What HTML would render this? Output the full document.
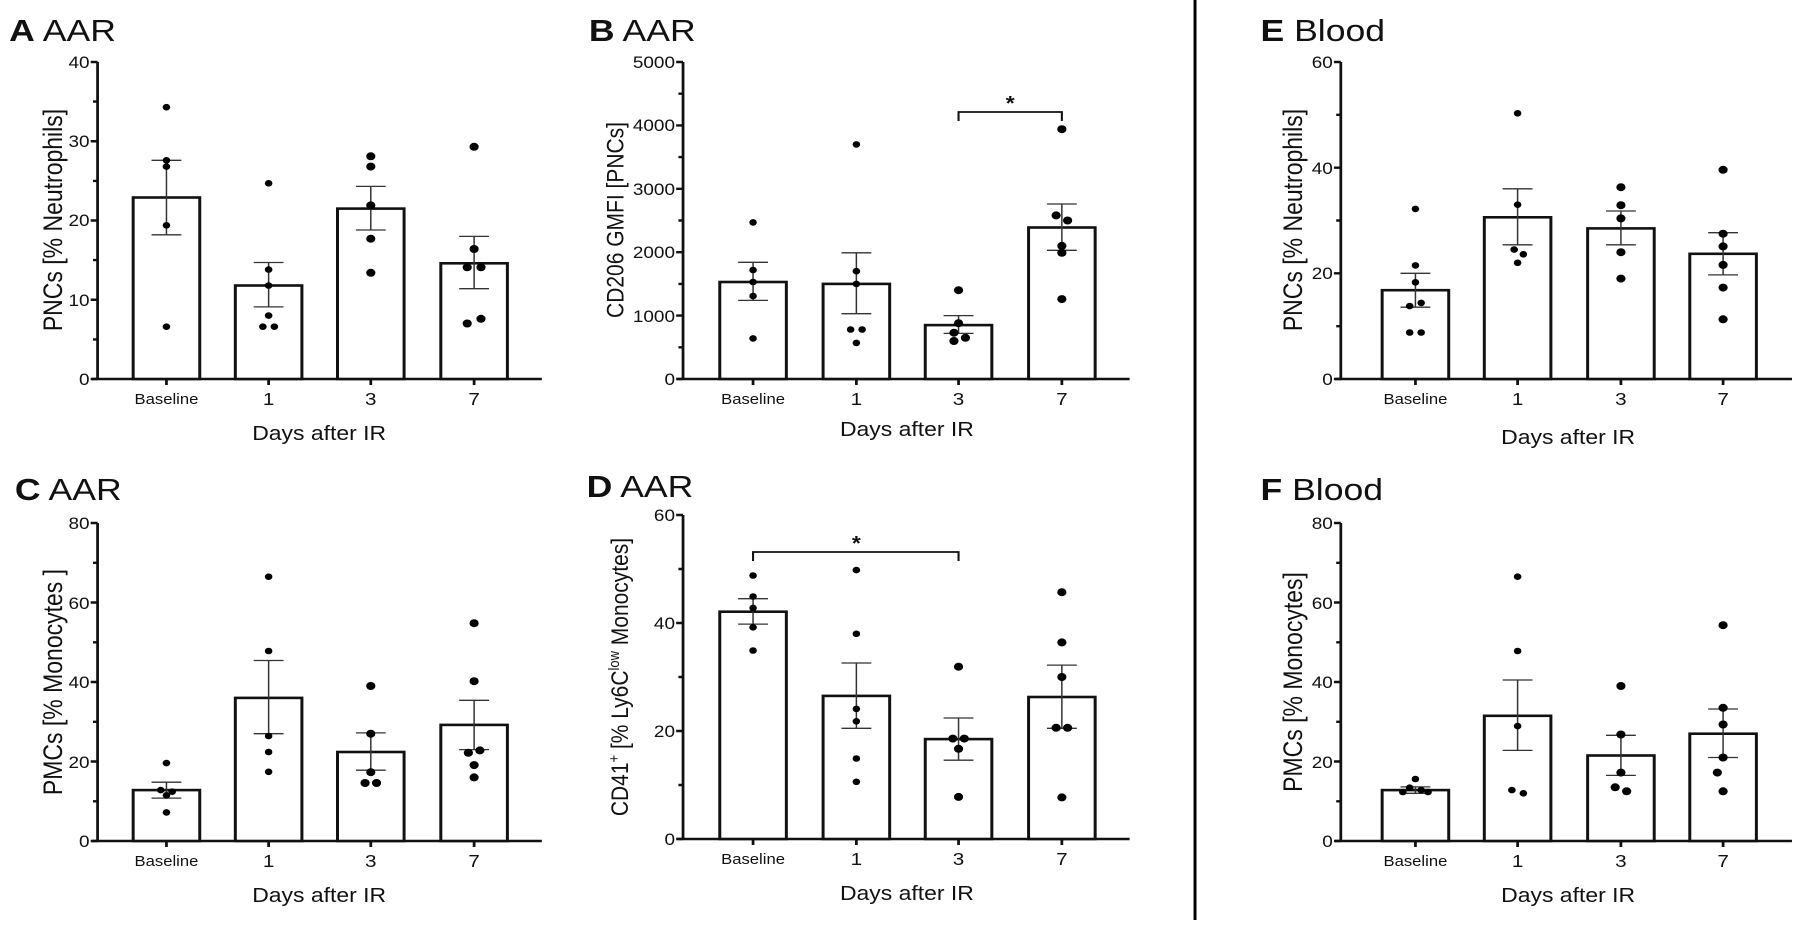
<!DOCTYPE html>
<html><head><meta charset="utf-8"><style>
html,body{margin:0;padding:0;background:#fff}
svg{display:block}
text{font-family:"Liberation Sans",Arial,sans-serif;fill:#111}
.ax{stroke:#111;stroke-width:2.4;fill:none}
.bar{stroke:#111;stroke-width:2.6;fill:#fff}
.eb{stroke:#333;stroke-width:1.3;fill:none}
.tk{font-size:16.5px;text-anchor:end}
.xl{font-size:14.5px;text-anchor:middle}
.xd{font-size:18px;text-anchor:middle}
.yl{font-size:23px;text-anchor:middle}
.dx{font-size:20px;text-anchor:middle}
.tt{font-size:31px}
circle{fill:#000}
</style></head><body>
<svg width="1800" height="927" viewBox="0 0 1568 927" preserveAspectRatio="none">
<line x1="1041" y1="0" x2="1041" y2="920" stroke="#000" stroke-width="2.6"/>

<!-- Panel A -->
<text class="tt" x="8" y="41"><tspan font-weight="bold">A</tspan> AAR</text>
<path class="ax" d="M85,62V379M80,379H472"/>
<path class="ax" d="M85,62h-6M85,141.25h-6M85,220.5h-6M85,299.75h-6M85,379h-6M85,101.6h-4M85,180.9h-4M85,260.1h-4M85,339.4h-4M145,379v6M234,379v6M323,379v6M413,379v6"/>
<text class="tk" x="78" y="68">40</text><text class="tk" x="78" y="147">30</text><text class="tk" x="78" y="226">20</text><text class="tk" x="78" y="306">10</text><text class="tk" x="78" y="385">0</text>
<rect class="bar" x="116" y="197.5" width="58" height="181.5"/><rect class="bar" x="205" y="285.5" width="58" height="93.5"/><rect class="bar" x="294" y="208.6" width="58" height="170.4"/><rect class="bar" x="384" y="263.3" width="58" height="115.7"/>
<path class="eb" d="M145,234.8V160.3M132,234.8h26M132,160.3h26M234,306.9V262.5M221,306.9h26M221,262.5h26M323,230V186.4M310,230h26M310,186.4h26M413,288.7V236.4M400,288.7h26M400,236.4h26"/>
<g><circle cx="145" cy="107.2" r="3.3"/><circle cx="145" cy="160.3" r="3.3"/><circle cx="145" cy="166.6" r="3.3"/><circle cx="145" cy="225.3" r="3.3"/><circle cx="145" cy="326.7" r="3.3"/>
<circle cx="234" cy="183.3" r="3.3"/><circle cx="234" cy="269.6" r="3.3"/><circle cx="234" cy="285.5" r="3.3"/><circle cx="234" cy="315.6" r="3.3"/><circle cx="229" cy="326.7" r="3.3"/><circle cx="239" cy="326.7" r="3.3"/>
<circle cx="323" cy="156.3" r="4"/><circle cx="323" cy="166.6" r="4"/><circle cx="323" cy="205.4" r="4"/><circle cx="323" cy="238.7" r="4"/><circle cx="323" cy="272.8" r="4"/>
<circle cx="413" cy="146.8" r="4"/><circle cx="413" cy="249" r="4"/><circle cx="407" cy="267.3" r="4"/><circle cx="419" cy="267.3" r="4"/><circle cx="407" cy="323.5" r="4"/><circle cx="419" cy="318.8" r="4"/></g>
<text class="xl" x="145" y="404">Baseline</text><text class="xd" x="234" y="405">1</text><text class="xd" x="323" y="405">3</text><text class="xd" x="413" y="405">7</text>
<text class="dx" x="278" y="440">Days after IR</text>
<text class="yl" transform="translate(54,220) rotate(-90)">PNCs [% Neutrophils]</text>

<!-- Panel B -->
<text class="tt" x="513" y="41"><tspan font-weight="bold">B</tspan> AAR</text>
<path class="ax" d="M595,62V379M590,379H984"/>
<path class="ax" d="M595,62h-6M595,125.4h-6M595,188.8h-6M595,252.2h-6M595,315.6h-6M595,379h-6M595,93.7h-4M595,157.1h-4M595,220.5h-4M595,283.9h-4M595,347.3h-4M656,379v6M746,379v6M835,379v6M925,379v6"/>
<text class="tk" x="588" y="68">5000</text><text class="tk" x="588" y="131">4000</text><text class="tk" x="588" y="195">3000</text><text class="tk" x="588" y="258">2000</text><text class="tk" x="588" y="322">1000</text><text class="tk" x="588" y="385">0</text>
<rect class="bar" x="627" y="282" width="58" height="97"/><rect class="bar" x="717" y="283.9" width="58" height="95.1"/><rect class="bar" x="806" y="325.1" width="58" height="53.9"/><rect class="bar" x="896" y="227.5" width="58" height="151.5"/>
<path class="eb" d="M656,300.4V262.3M643,300.4h26M643,262.3h26M746,313.7V252.8M733,313.7h26M733,252.8h26M835,333.4V315.6M822,333.4h26M822,315.6h26M925,250.3V204M912,250.3h26M912,204h26"/>
<path d="M835,121V112H925V121" stroke="#111" stroke-width="1.8" fill="none"/><text x="880" y="110" font-size="20" text-anchor="middle" font-weight="bold">*</text>
<g><circle cx="656" cy="222.4" r="3.3"/><circle cx="656" cy="270" r="3.3"/><circle cx="656" cy="282" r="3.3"/><circle cx="656" cy="296" r="3.3"/><circle cx="656" cy="338.4" r="3.3"/>
<circle cx="746" cy="144.4" r="3.3"/><circle cx="746" cy="271.2" r="3.3"/><circle cx="746" cy="283.9" r="3.3"/><circle cx="741" cy="329.5" r="3.3"/><circle cx="751" cy="329.5" r="3.3"/><circle cx="746" cy="342.9" r="3.3"/>
<circle cx="835" cy="290.2" r="4"/><circle cx="835" cy="323.2" r="4"/><circle cx="831" cy="332.7" r="4"/><circle cx="831" cy="341" r="4"/><circle cx="841" cy="337.8" r="4"/>
<circle cx="925" cy="129.2" r="4"/><circle cx="920" cy="215.4" r="4"/><circle cx="930" cy="220.5" r="4"/><circle cx="925" cy="245.9" r="4"/><circle cx="925" cy="252.8" r="4"/><circle cx="925" cy="299.1" r="4"/></g>
<text class="xl" x="656" y="404">Baseline</text><text class="xd" x="746" y="405">1</text><text class="xd" x="835" y="405">3</text><text class="xd" x="925" y="405">7</text>
<text class="dx" x="790" y="436">Days after IR</text>
<text class="yl" style="font-size:21px" transform="translate(543,220) rotate(-90)">CD206 GMFI [PNCs]</text>

<!-- Panel E -->
<text class="tt" x="1098" y="41"><tspan font-weight="bold">E</tspan> Blood</text>
<path class="ax" d="M1168,62V379M1163,379H1561"/>
<path class="ax" d="M1168,62h-6M1168,167.7h-6M1168,273.3h-6M1168,379h-6M1168,114.8h-4M1168,220.5h-4M1168,326.2h-4M1233,379v6M1322,379v6M1412,379v6M1501,379v6"/>
<text class="tk" x="1161" y="68">60</text><text class="tk" x="1161" y="174">40</text><text class="tk" x="1161" y="279">20</text><text class="tk" x="1161" y="385">0</text>
<rect class="bar" x="1204" y="290.2" width="58" height="88.8"/><rect class="bar" x="1293" y="217.3" width="58" height="161.7"/><rect class="bar" x="1383" y="228.4" width="58" height="150.6"/><rect class="bar" x="1472" y="253.8" width="58" height="125.2"/>
<path class="eb" d="M1233,307.2V273.3M1220,307.2h26M1220,273.3h26M1322,244.8V188.8M1309,244.8h26M1309,188.8h26M1412,244.8V211M1399,244.8h26M1399,211h26M1501,274.9V232.7M1488,274.9h26M1488,232.7h26"/>
<g><circle cx="1233" cy="208.9" r="3.3"/><circle cx="1233" cy="265.4" r="3.3"/><circle cx="1233" cy="282.3" r="3.3"/><circle cx="1238" cy="302.9" r="3.3"/><circle cx="1228" cy="306.1" r="3.3"/><circle cx="1228" cy="332.5" r="3.3"/><circle cx="1238" cy="332.5" r="3.3"/>
<circle cx="1322" cy="113.3" r="3.3"/><circle cx="1322" cy="204.7" r="3.3"/><circle cx="1319" cy="249.6" r="3.3"/><circle cx="1327" cy="254.3" r="3.3"/><circle cx="1322" cy="262.8" r="3.3"/>
<circle cx="1412" cy="187.2" r="4"/><circle cx="1412" cy="205.2" r="4"/><circle cx="1412" cy="218.4" r="4"/><circle cx="1412" cy="252.2" r="4"/><circle cx="1412" cy="278.6" r="4"/>
<circle cx="1501" cy="169.8" r="4"/><circle cx="1501" cy="233.7" r="4"/><circle cx="1501" cy="246.4" r="4"/><circle cx="1501" cy="264.9" r="4"/><circle cx="1501" cy="287.6" r="4"/><circle cx="1501" cy="319.3" r="4"/></g>
<text class="xl" x="1233" y="404">Baseline</text><text class="xd" x="1322" y="405">1</text><text class="xd" x="1412" y="405">3</text><text class="xd" x="1501" y="405">7</text>
<text class="dx" x="1366" y="444">Days after IR</text>
<text class="yl" transform="translate(1134,220) rotate(-90)">PNCs [% Neutrophils]</text>

<!-- Panel C -->
<text class="tt" x="13" y="500"><tspan font-weight="bold">C</tspan> AAR</text>
<path class="ax" d="M85,523V841M80,841H472"/>
<path class="ax" d="M85,523h-6M85,602.5h-6M85,682h-6M85,761.5h-6M85,841h-6M85,562.8h-4M85,642.3h-4M85,721.8h-4M85,801.3h-4M145,841v6M234,841v6M323,841v6M413,841v6"/>
<text class="tk" x="78" y="529">80</text><text class="tk" x="78" y="609">60</text><text class="tk" x="78" y="688">40</text><text class="tk" x="78" y="768">20</text><text class="tk" x="78" y="847">0</text>
<rect class="bar" x="116" y="790.1" width="58" height="50.9"/><rect class="bar" x="205" y="697.9" width="58" height="143.1"/><rect class="bar" x="294" y="752" width="58" height="89"/><rect class="bar" x="384" y="724.9" width="58" height="116.1"/>
<path class="eb" d="M145,798.1V782.2M132,798.1h26M132,782.2h26M234,733.7V660.5M221,733.7h26M221,660.5h26M323,770.2V732.9M310,770.2h26M310,732.9h26M413,749.6V700.3M400,749.6h26M400,700.3h26"/>
<g><circle cx="145" cy="763.1" r="3.3"/><circle cx="140" cy="790.1" r="3.3"/><circle cx="150" cy="791.7" r="3.3"/><circle cx="145" cy="795.3" r="3.3"/><circle cx="145" cy="812.4" r="3.3"/>
<circle cx="234" cy="576.7" r="3.3"/><circle cx="234" cy="651" r="3.3"/><circle cx="234" cy="736" r="3.3"/><circle cx="234" cy="752" r="3.3"/><circle cx="234" cy="771.8" r="3.3"/>
<circle cx="323" cy="686" r="4"/><circle cx="323" cy="733.7" r="4"/><circle cx="323" cy="772.2" r="4"/><circle cx="318" cy="783" r="4"/><circle cx="328" cy="783" r="4"/>
<circle cx="413" cy="623.2" r="4"/><circle cx="413" cy="681.2" r="4"/><circle cx="418" cy="750.4" r="4"/><circle cx="408" cy="752.8" r="4"/><circle cx="413" cy="765.1" r="4"/><circle cx="413" cy="777.4" r="4"/></g>
<text class="xl" x="145" y="866">Baseline</text><text class="xd" x="234" y="867">1</text><text class="xd" x="323" y="867">3</text><text class="xd" x="413" y="867">7</text>
<text class="dx" x="278" y="902">Days after IR</text>
<text class="yl" transform="translate(54,682) rotate(-90)">PMCs [% Monocytes ]</text>

<!-- Panel D -->
<text class="tt" x="511" y="497"><tspan font-weight="bold">D</tspan> AAR</text>
<path class="ax" d="M595,515V839M590,839H984"/>
<path class="ax" d="M595,515h-6M595,623h-6M595,731h-6M595,839h-6M595,569h-4M595,677h-4M595,785h-4M656,839v6M746,839v6M835,839v6M925,839v6"/>
<text class="tk" x="588" y="521">60</text><text class="tk" x="588" y="629">40</text><text class="tk" x="588" y="737">20</text><text class="tk" x="588" y="845">0</text>
<rect class="bar" x="627" y="611.7" width="58" height="227.3"/><rect class="bar" x="717" y="695.9" width="58" height="143.1"/><rect class="bar" x="806" y="739.1" width="58" height="99.9"/><rect class="bar" x="896" y="697" width="58" height="142"/>
<path class="eb" d="M656,624.1V598.7M643,624.1h26M643,598.7h26M746,728.3V663M733,728.3h26M733,663h26M835,760.2V718M822,760.2h26M822,718h26M925,728.3V665.1M912,728.3h26M912,665.1h26"/>
<path d="M656,561V552H835V561" stroke="#111" stroke-width="1.8" fill="none"/><text x="746" y="550" font-size="20" text-anchor="middle" font-weight="bold">*</text>
<g><circle cx="656" cy="575.5" r="3.3"/><circle cx="656" cy="596.5" r="3.3"/><circle cx="656" cy="607.9" r="3.3"/><circle cx="656" cy="627.3" r="3.3"/><circle cx="656" cy="650.5" r="3.3"/>
<circle cx="746" cy="570.1" r="3.3"/><circle cx="746" cy="633.8" r="3.3"/><circle cx="746" cy="708.9" r="3.3"/><circle cx="746" cy="721.3" r="3.3"/><circle cx="746" cy="758.5" r="3.3"/><circle cx="746" cy="781.8" r="3.3"/>
<circle cx="835" cy="666.7" r="4"/><circle cx="830" cy="738.6" r="4"/><circle cx="840" cy="738.6" r="4"/><circle cx="835" cy="748.8" r="4"/><circle cx="835" cy="796.9" r="4"/>
<circle cx="925" cy="592.2" r="4"/><circle cx="925" cy="642.4" r="4"/><circle cx="925" cy="677" r="4"/><circle cx="920" cy="727.8" r="4"/><circle cx="930" cy="727.8" r="4"/><circle cx="925" cy="797.4" r="4"/></g>
<text class="xl" x="656" y="864">Baseline</text><text class="xd" x="746" y="865">1</text><text class="xd" x="835" y="865">3</text><text class="xd" x="925" y="865">7</text>
<text class="dx" x="790" y="900">Days after IR</text>
<text class="yl" style="font-size:21px" transform="translate(547,677) rotate(-90)">CD41<tspan dy="-8" font-size="13">+</tspan><tspan dy="8"> [% Ly6C</tspan><tspan dy="-8" font-size="13">low</tspan><tspan dy="8"> Monocytes]</tspan></text>

<!-- Panel F -->
<text class="tt" x="1098" y="500"><tspan font-weight="bold">F</tspan> Blood</text>
<path class="ax" d="M1168,523V841M1163,841H1561"/>
<path class="ax" d="M1168,523h-6M1168,602.5h-6M1168,682h-6M1168,761.5h-6M1168,841h-6M1168,562.8h-4M1168,642.3h-4M1168,721.8h-4M1168,801.3h-4M1233,841v6M1322,841v6M1412,841v6M1501,841v6"/>
<text class="tk" x="1161" y="529">80</text><text class="tk" x="1161" y="609">60</text><text class="tk" x="1161" y="688">40</text><text class="tk" x="1161" y="768">20</text><text class="tk" x="1161" y="847">0</text>
<rect class="bar" x="1204" y="790.1" width="58" height="50.9"/><rect class="bar" x="1293" y="715.8" width="58" height="125.2"/><rect class="bar" x="1383" y="755.5" width="58" height="85.5"/><rect class="bar" x="1472" y="733.7" width="58" height="107.3"/>
<path class="eb" d="M1233,793.3V786.9M1220,793.3h26M1220,786.9h26M1322,750.4V680M1309,750.4h26M1309,680h26M1412,775.4V735.3M1399,775.4h26M1399,735.3h26M1501,757.5V709M1488,757.5h26M1488,709h26"/>
<g><circle cx="1233" cy="779" r="3.3"/><circle cx="1228" cy="787.7" r="3.3"/><circle cx="1238" cy="790.1" r="3.3"/><circle cx="1222" cy="792" r="3.3"/><circle cx="1244" cy="792" r="3.3"/>
<circle cx="1322" cy="576.7" r="3.3"/><circle cx="1322" cy="651" r="3.3"/><circle cx="1322" cy="726.1" r="3.3"/><circle cx="1317" cy="790.1" r="3.3"/><circle cx="1327" cy="793.3" r="3.3"/>
<circle cx="1412" cy="686" r="4"/><circle cx="1412" cy="734.5" r="4"/><circle cx="1412" cy="772.6" r="4"/><circle cx="1407" cy="787.3" r="4"/><circle cx="1417" cy="791.3" r="4"/>
<circle cx="1501" cy="625.2" r="4"/><circle cx="1501" cy="707.8" r="4"/><circle cx="1501" cy="724.5" r="4"/><circle cx="1501" cy="757.5" r="4"/><circle cx="1496" cy="772.6" r="4"/><circle cx="1501" cy="791.3" r="4"/></g>
<text class="xl" x="1233" y="866">Baseline</text><text class="xd" x="1322" y="867">1</text><text class="xd" x="1412" y="867">3</text><text class="xd" x="1501" y="867">7</text>
<text class="dx" x="1366" y="902">Days after IR</text>
<text class="yl" transform="translate(1134,682) rotate(-90)">PMCs [% Monocytes]</text>
</svg>
</body></html>
